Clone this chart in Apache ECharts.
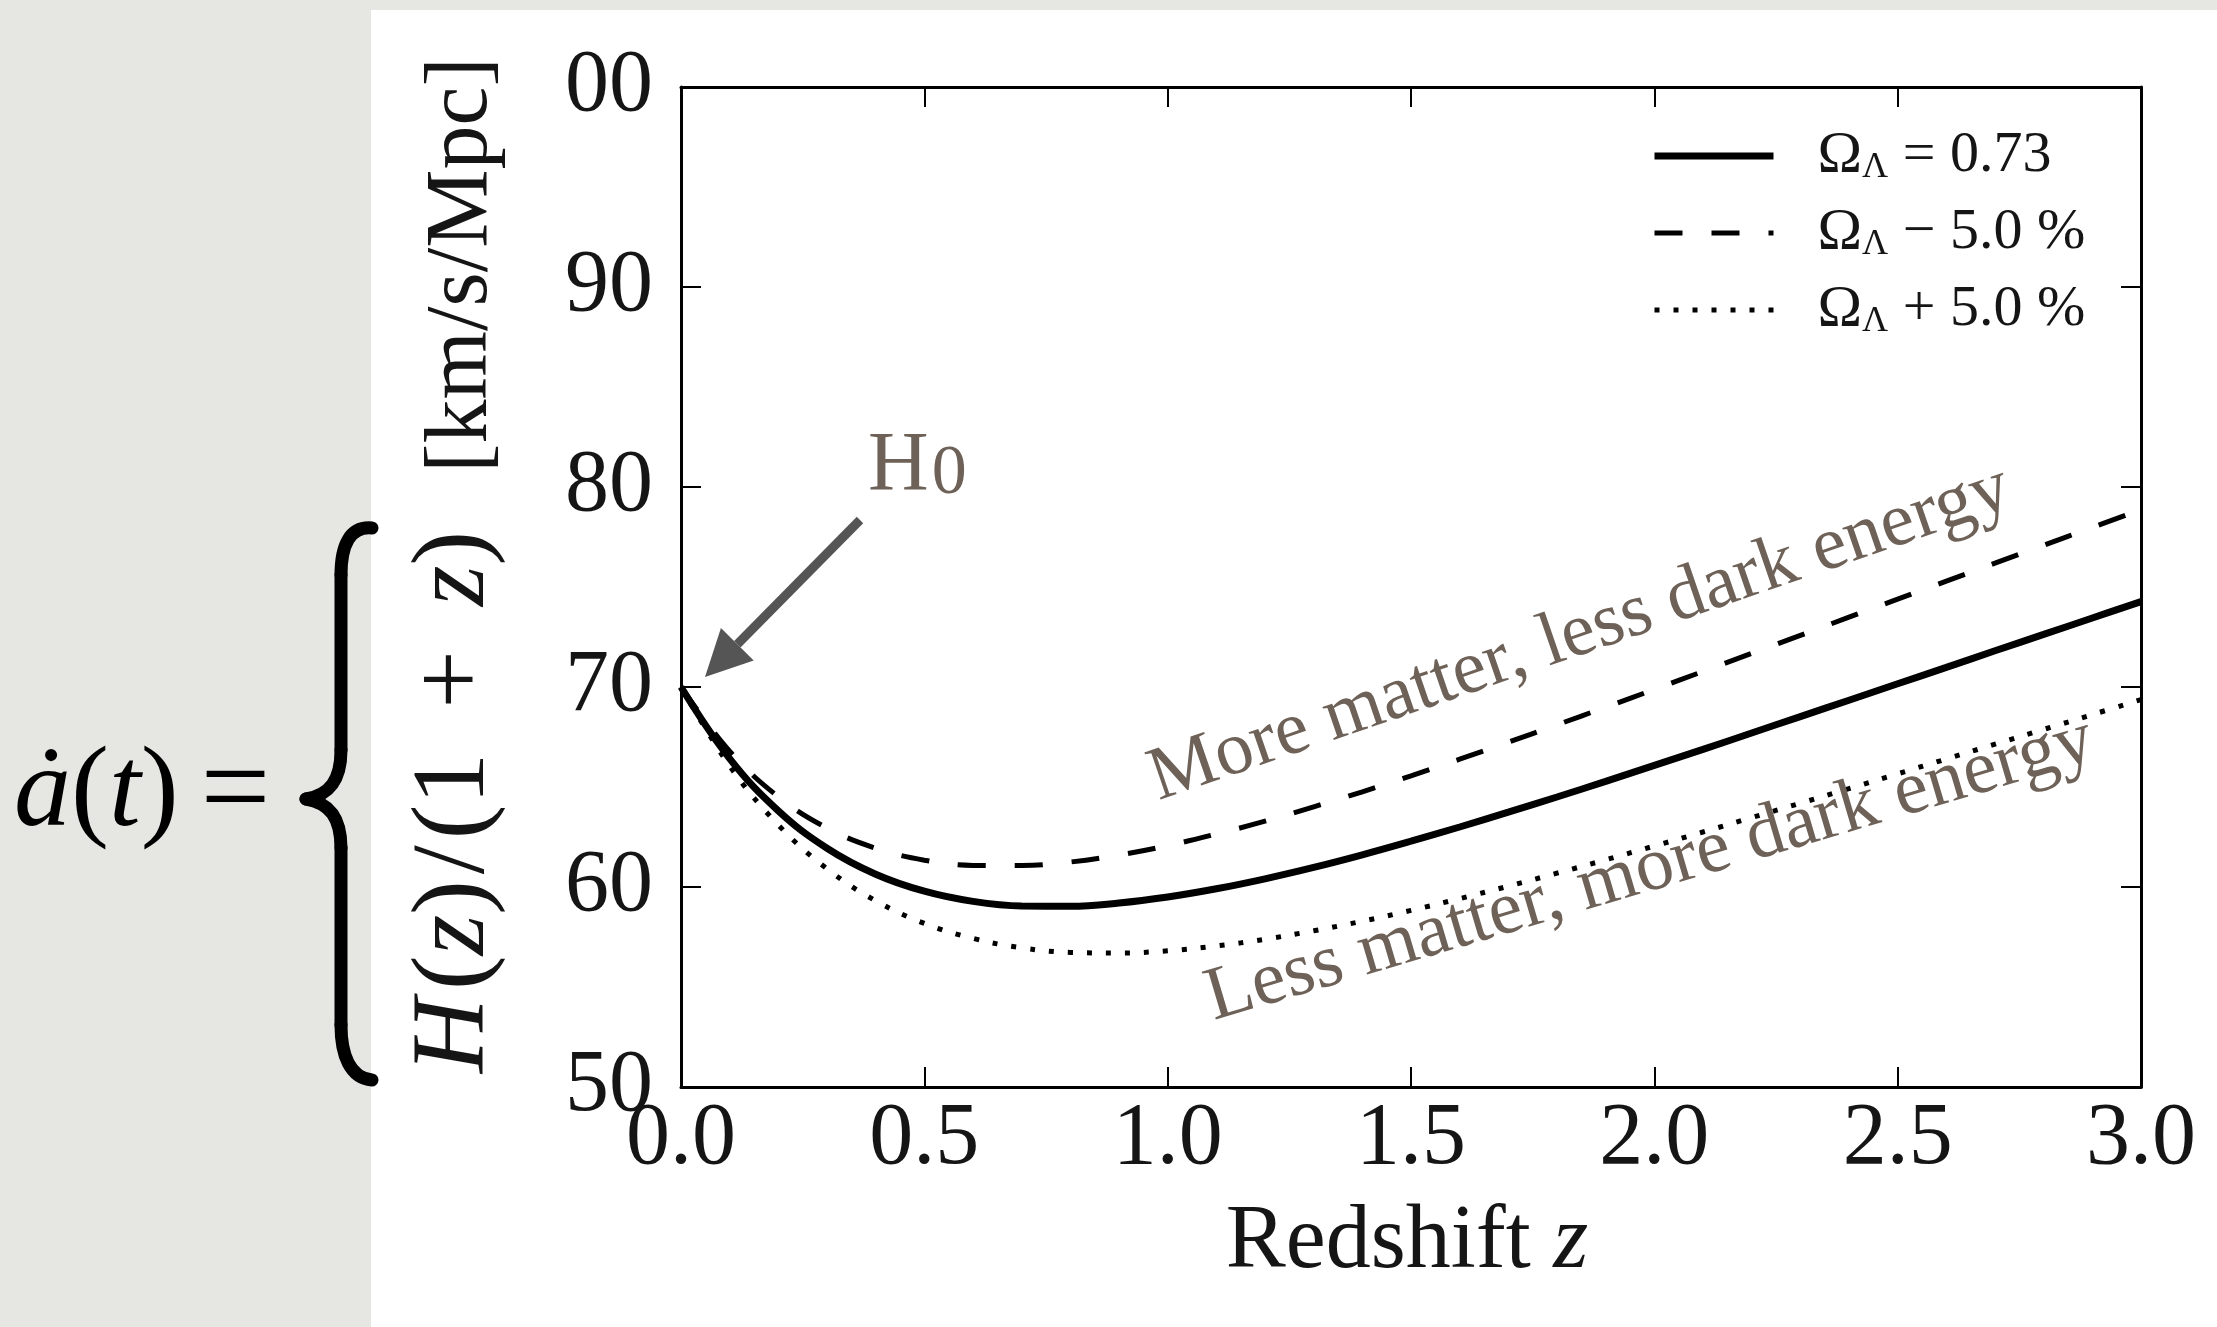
<!DOCTYPE html>
<html>
<head>
<meta charset="utf-8">
<script src="https://cdn.jsdelivr.net/npm/echarts@6/dist/echarts.min.js"></script>
<style>
  html, body { margin: 0; padding: 0; background: #e6e6e2; }
  #chart { width: 2217px; height: 1327px; }
</style>
</head>
<body>
<div id="chart"></div>
<script>
// Redshift samples and H(z)/(1+z) in km/s/Mpc for three dark-energy fractions
const redshift = [0.0, 0.1, 0.2, 0.3, 0.4, 0.5, 0.6, 0.7, 0.8, 0.9, 1.0,
                  1.1, 1.2, 1.3, 1.4, 1.5, 1.6, 1.7, 1.8, 1.9, 2.0,
                  2.1, 2.2, 2.3, 2.4, 2.5, 2.6, 2.7, 2.8, 2.9, 3.0];
const hubbleBase = [70.00, 66.42, 63.81, 61.94, 60.64, 59.79, 59.28, 59.05, 59.04, 59.20, 59.50,
                    59.91, 60.41, 60.98, 61.61, 62.29, 63.00, 63.74, 64.50, 65.28, 66.08,
                    66.88, 67.70, 68.52, 69.34, 70.16, 70.98, 71.81, 72.63, 73.45, 74.27];
const hubbleLessLambda = [70.00, 66.79, 64.51, 62.95, 61.94, 61.34, 61.08, 61.07, 61.25, 61.60, 62.07,
                          62.65, 63.29, 64.01, 64.76, 65.56, 66.39, 67.24, 68.11, 68.99, 69.88,
                          70.78, 71.68, 72.58, 73.49, 74.39, 75.29, 76.19, 77.09, 77.98, 78.87];
const hubbleMoreLambda = [70.00, 66.05, 63.10, 60.91, 59.31, 58.18, 57.43, 56.96, 56.73, 56.70, 56.81,
                          57.05, 57.39, 57.81, 58.29, 58.83, 59.42, 60.04, 60.69, 61.36, 62.05,
                          62.75, 63.47, 64.19, 64.92, 65.66, 66.40, 67.14, 67.88, 68.62, 69.37];

const seriesNames = ['ΩΛ = 0.73', 'ΩΛ − 5.0 %', 'ΩΛ + 5.0 %'];
const legendTail = [' = 0.73', ' − 5.0 %', ' + 5.0 %'];
const yTickValues = [50, 60, 70, 80, 90, 100];
const yTickText = ['50', '60', '70', '80', '90', '00'];
const xTickText = ['0.0', '0.5', '1.0', '1.5', '2.0', '2.5', '3.0'];

const SERIF = "'Liberation Serif', 'DejaVu Serif', serif";
const INK = '#151515';
const NOTE = '#6e6258';

const pairs = vals => redshift.map((z, i) => [z, vals[i]]);

const chart = echarts.init(document.getElementById('chart'), null, { renderer: 'canvas' });

const tickCommon = { inside: true, length: 20, lineStyle: { color: '#000', width: 2 } };
const lineCommon = { show: true, onZero: false, lineStyle: { color: '#000', width: 3 } };

// Arrow geometry pointing at H0
const tail = [860, 520], tip = [705, 677];
const dx = tip[0] - tail[0], dy = tip[1] - tail[1];
const len = Math.hypot(dx, dy), ux = dx / len, uy = dy / len;
const headLen = 46, headHalf = 23;
const base = [tip[0] - ux * headLen, tip[1] - uy * headLen];

// Curly brace built from curve and line pieces
const braceStyle = { fill: 'none', stroke: '#000', lineWidth: 13, lineCap: 'round' };
const braceCurves = [
  [372, 528, 341, 575, 350, 526, 341, 545],
  [341, 750, 306, 799, 341, 780, 330, 795],
  [306, 799, 341, 848, 330, 803, 341, 818],
  [341, 1025, 372, 1080, 341, 1055, 350, 1078]
];
const braceLines = [[341, 575, 341, 750], [341, 848, 341, 1025]];
const braceParts = braceCurves.map(c => ({
  type: 'bezierCurve', z: 5, silent: true,
  shape: { x1: c[0], y1: c[1], x2: c[2], y2: c[3], cpx1: c[4], cpy1: c[5], cpx2: c[6], cpy2: c[7] },
  style: braceStyle
})).concat(braceLines.map(l => ({
  type: 'line', z: 5, silent: true,
  shape: { x1: l[0], y1: l[1], x2: l[2], y2: l[3] },
  style: braceStyle
})));

const mathRich = (size, color) => ({
  i: { fontFamily: SERIF, fontStyle: 'italic', fontSize: size, fill: color },
  ih: { fontFamily: SERIF, fontStyle: 'italic', fontSize: size, fill: color, padding: [0, 8, 0, 0] },
  r: { fontFamily: SERIF, fontSize: size, fill: color },
  sl: { fontFamily: SERIF, fontSize: size, fill: color, padding: [0, 6, 0, 6] },
  p: { fontFamily: SERIF, fontSize: size, fill: color, padding: [0, 44, 0, 44] }
});

const option = {
  backgroundColor: '#e6e6e2',
  animation: false,
  grid: { left: 681, top: 87, width: 1460, height: 1000, outerBoundsMode: 'none', containLabel: false },
  xAxis: [
    {
      type: 'value', min: 0, max: 3, interval: 0.5, position: 'bottom',
      axisLine: lineCommon, axisTick: tickCommon, splitLine: { show: false },
      axisLabel: {
        margin: 9, fontFamily: SERIF, fontSize: 88, lineHeight: 88, color: INK,
        formatter: v => xTickText[Math.round(v / 0.5)]
      }
    },
    {
      type: 'value', min: 0, max: 3, interval: 0.5, position: 'top',
      axisLine: lineCommon, axisTick: tickCommon, splitLine: { show: false },
      axisLabel: { show: false }
    }
  ],
  yAxis: [
    {
      type: 'value', min: 50, max: 100, interval: 10, position: 'left',
      axisLine: lineCommon, axisTick: tickCommon, splitLine: { show: false },
      axisLabel: {
        margin: 28, fontFamily: SERIF, fontSize: 88, color: INK,
        formatter: v => yTickText[yTickValues.indexOf(v)]
      }
    },
    {
      type: 'value', min: 50, max: 100, interval: 10, position: 'right',
      axisLine: lineCommon, axisTick: tickCommon, splitLine: { show: false },
      axisLabel: { show: false }
    }
  ],
  legend: {
    data: seriesNames,
    orient: 'vertical',
    left: 1651, top: 126,
    itemWidth: 119, itemHeight: 20, itemGap: 17,
    padding: 0,
    selectedMode: false,
    itemStyle: { opacity: 0, borderWidth: 0 },
    lineStyle: { width: 'inherit', type: 'inherit' },
    formatter: name => '{o|Ω}{s|Λ}{t|' + legendTail[seriesNames.indexOf(name)] + '}',
    textStyle: {
      fontFamily: SERIF, fontSize: 58, color: INK,
      rich: {
        o: { fontFamily: SERIF, fontSize: 60, lineHeight: 60, padding: [0, 0, 0, 39], color: INK },
        s: { fontFamily: SERIF, fontSize: 36, lineHeight: 30, verticalAlign: 'bottom', color: INK },
        t: { fontFamily: SERIF, fontSize: 58, lineHeight: 60, color: INK }
      }
    }
  },
  series: [
    {
      name: seriesNames[1], type: 'line', data: pairs(hubbleLessLambda),
      xAxisIndex: 0, yAxisIndex: 0, symbol: 'none', smooth: 0.4, z: 3,
      itemStyle: { color: '#000' },
      lineStyle: { color: '#000', width: 5, type: [28, 29], cap: 'butt' }
    },
    {
      name: seriesNames[2], type: 'line', data: pairs(hubbleMoreLambda),
      xAxisIndex: 0, yAxisIndex: 0, symbol: 'none', smooth: 0.4, z: 3,
      itemStyle: { color: '#000' },
      lineStyle: { color: '#000', width: 5, type: [5, 14], cap: 'butt' }
    },
    {
      name: seriesNames[0], type: 'line', data: pairs(hubbleBase),
      xAxisIndex: 0, yAxisIndex: 0, symbol: 'none', smooth: 0.4, z: 4,
      itemStyle: { color: '#000' },
      lineStyle: { color: '#000', width: 7 }
    }
  ],
  graphic: [
    // white slide panel behind the plot
    { type: 'rect', z: -10, silent: true,
      shape: { x: 371, y: 10, width: 1846, height: 1317 }, style: { fill: '#ffffff' } },
    ...braceParts,
    // ȧ(t) =
    { type: 'text', z: 5, x: 14, y: 795, silent: true,
      style: {
        text: '{i|ȧ}{r|(}{i|t}{r|)}{eq|=}',
        align: 'left', verticalAlign: 'middle',
        rich: {
          i: { fontFamily: SERIF, fontStyle: 'italic', fontSize: 114, fill: '#000' },
          r: { fontFamily: SERIF, fontSize: 114, fill: '#000' },
          eq: { fontFamily: SERIF, fontSize: 124, fill: '#000', padding: [0, 0, 0, 22] }
        }
      } },
    // y-axis title: math part and units
    { type: 'text', z: 5, x: 456, y: 802, rotation: Math.PI / 2, silent: true,
      style: {
        text: '{ih|H}{r|(}{i|z}{r|)}{sl|/}{r|(1}{p|+}{i|z}{r|)}',
        align: 'center', verticalAlign: 'middle',
        rich: mathRich(104, INK)
      } },
    { type: 'text', z: 5, x: 463, y: 265, rotation: Math.PI / 2, silent: true,
      style: {
        text: '[km/s/Mpc]', fontFamily: SERIF, fontSize: 88, fill: INK,
        align: 'center', verticalAlign: 'middle'
      } },
    // x-axis title
    { type: 'text', z: 5, x: 1407, y: 1243, silent: true,
      style: {
        text: '{r|Redshift }{i|z}',
        align: 'center', verticalAlign: 'middle',
        rich: {
          i: { fontFamily: SERIF, fontStyle: 'italic', fontSize: 90, fill: INK },
          r: { fontFamily: SERIF, fontSize: 90, fill: INK }
        }
      } },
    // H0 label
    { type: 'text', z: 5, x: 868, y: 468, silent: true,
      style: {
        text: '{h|H}{s|0}',
        align: 'left', verticalAlign: 'middle',
        rich: {
          h: { fontFamily: SERIF, fontSize: 84, lineHeight: 84, fill: NOTE },
          s: { fontFamily: SERIF, fontSize: 70, lineHeight: 56, verticalAlign: 'bottom', fill: NOTE, padding: [0, 0, 0, 3] }
        }
      } },
    // arrow to H0
    { type: 'line', z: 5, silent: true,
      shape: { x1: tail[0], y1: tail[1], x2: base[0], y2: base[1] },
      style: { stroke: '#555555', lineWidth: 9 } },
    { type: 'polygon', z: 5, silent: true,
      shape: { points: [tip, [base[0] + uy * headHalf, base[1] - ux * headHalf], [base[0] - uy * headHalf, base[1] + ux * headHalf]] },
      style: { fill: '#555555' } },
    // curve annotations
    { type: 'text', z: 5, x: 1580, y: 634, rotation: 19 * Math.PI / 180, silent: true,
      style: {
        text: 'More matter, less dark energy', fontFamily: SERIF, fontSize: 76, fill: NOTE,
        align: 'center', verticalAlign: 'middle'
      } },
    { type: 'text', z: 5, x: 1650, y: 870, rotation: 16.5 * Math.PI / 180, silent: true,
      style: {
        text: 'Less matter, more dark energy', fontFamily: SERIF, fontSize: 76, fill: NOTE,
        align: 'center', verticalAlign: 'middle'
      } }
  ]
};

chart.setOption(option);
</script>
</body>
</html>
